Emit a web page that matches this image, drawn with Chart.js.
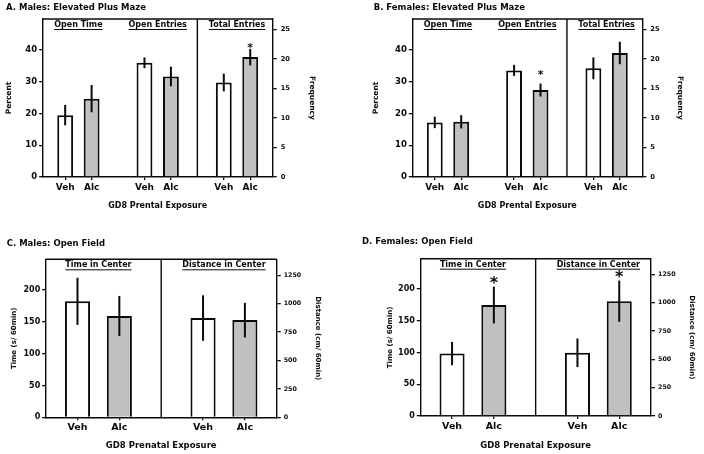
<!DOCTYPE html>
<html><head><meta charset="utf-8">
<script src="https://cdn.jsdelivr.net/npm/chart.js@4.4.1/dist/chart.umd.min.js"></script>
<style>
html,body{margin:0;padding:0;background:#fff;}
#wrap{position:relative;width:704px;height:454px;overflow:hidden;background:#fff;}
canvas{position:absolute;}
</style></head><body>
<div id="wrap">
<canvas id="cA" width="352" height="227" style="left:0px;top:0px"></canvas>
<canvas id="cB" width="352" height="227" style="left:352px;top:0px"></canvas>
<canvas id="cC" width="352" height="227" style="left:0px;top:227px"></canvas>
<canvas id="cD" width="352" height="227" style="left:352px;top:227px"></canvas>
</div>
<script>
// ---------- DATA ----------
const TREATMENTS = ['Veh', 'Alc'];

// A. Males: Elevated Plus Maze
const A_title = 'A. Males: Elevated Plus Maze';
const A_groups = ['Open Time', 'Open Entries', 'Total Entries'];
const A_labels = ['Veh', 'Alc', 'Veh', 'Alc', 'Veh', 'Alc'];
const A_group = [0, 0, 1, 1, 2, 2];
const A_axis = ['left', 'left', 'left', 'left', 'right', 'right'];
const A_values = [19.5, 24.7, 36.0, 31.7, 16.0, 20.3];
const A_errors = [3.2, 4.3, 1.7, 3.1, 1.5, 1.4];
const A_sig = ['', '', '', '', '', '*'];
const A_yTicks = [0, 10, 20, 30, 40];
const A_y2Ticks = [0, 5, 10, 15, 20, 25];
const A_yMax = 49.8, A_y2Max = 26.75;
const A_yTitle = 'Percent', A_y2Title = 'Frequency', A_xTitle = 'GD8 Prental Exposure';

// B. Females: Elevated Plus Maze
const B_title = 'B. Females: Elevated Plus Maze';
const B_groups = ['Open Time', 'Open Entries', 'Total Entries'];
const B_labels = ['Veh', 'Alc', 'Veh', 'Alc', 'Veh', 'Alc'];
const B_group = [0, 0, 1, 1, 2, 2];
const B_axis = ['left', 'left', 'left', 'left', 'right', 'right'];
const B_values = [17.2, 17.4, 33.6, 27.4, 18.4, 21.0];
const B_errors = [1.8, 2.1, 1.75, 2.05, 1.85, 1.9];
const B_sig = ['', '', '', '*', '', ''];
const B_yTicks = [0, 10, 20, 30, 40];
const B_y2Ticks = [0, 5, 10, 15, 20, 25];
const B_yMax = 49.8, B_y2Max = 26.75;
const B_yTitle = 'Percent', B_y2Title = 'Frequency', B_xTitle = 'GD8 Prental Exposure';

// C. Males: Open Field
const C_title = 'C. Males: Open Field';
const C_groups = ['Time in Center', 'Distance in Center'];
const C_labels = ['Veh', 'Alc', 'Veh', 'Alc'];
const C_group = [0, 0, 1, 1];
const C_axis = ['left', 'left', 'right', 'right'];
const C_values = [182, 159, 873, 855];
const C_errors = [37, 31.5, 200, 152];
const C_sig = ['', '', '', ''];
const C_yTicks = [0, 50, 100, 150, 200];
const C_y2Ticks = [0, 250, 500, 750, 1000, 1250];
const C_yMax = 248, C_y2Max = 1390;
const C_yTitle = 'Time (s/ 60min)', C_y2Title = 'Distance (cm/ 60min)', C_xTitle = 'GD8 Prenatal Exposure';

// D. Females: Open Field
const D_title = 'D. Females: Open Field';
const D_groups = ['Time in Center', 'Distance in Center'];
const D_labels = ['Veh', 'Alc', 'Veh', 'Alc'];
const D_group = [0, 0, 1, 1];
const D_axis = ['left', 'left', 'right', 'right'];
const D_values = [98.4, 175, 558, 1013];
const D_errors = [18.4, 29, 126, 182];
const D_sig = ['', '*', '', '*'];
const D_yTicks = [0, 50, 100, 150, 200];
const D_y2Ticks = [0, 250, 500, 750, 1000, 1250];
const D_yMax = 248, D_y2Max = 1388;
const D_yTitle = 'Time (s/ 60min)', D_y2Title = 'Distance (cm/ 60min)', D_xTitle = 'GD8 Prenatal Exposure';

// ---------- STYLE / LAYOUT ----------
const FILL = ['#ffffff', '#c0c0c0'];
const INK = '#0a0a0a';
const FAM = '"DejaVu Sans", "Liberation Sans", sans-serif';

function makeChart(canvasId, D, L) {
  const nT = TREATMENTS.length;
  const slots = D.labels.map((lab, i) => D.group[i] * (nT + 1) + TREATMENTS.indexOf(lab));
  const nGroups = D.groups.length;
  const xMin = -L.pad, xMax = nGroups * (nT + 1) - 2 + L.pad;
  const axisId = a => a === 'right' ? 'y2' : 'y';
  const datasets = ['left', 'right'].map(side => {
    const idx = D.values.map((v, i) => i).filter(i => D.axis[i] === side);
    return {
      yAxisID: axisId(side),
      data: idx.map(i => ({x: slots[i], y: D.values[i]})),
      backgroundColor: idx.map(i => FILL[TREATMENTS.indexOf(D.labels[i])]),
      borderColor: INK, borderWidth: 2, borderSkipped: 'start',
      grouped: false, categoryPercentage: 0.75, barPercentage: 0.8
    };
  }).filter(ds => ds.data.length);

  const W = L.w, H = L.h, A = L.area;
  const lh = 1.2;
  const decor = {
    id: 'decor',
    afterDatasetsDraw(chart) {
      const {ctx, chartArea: ca, scales} = chart;
      ctx.save();
      ctx.strokeStyle = INK; ctx.fillStyle = INK;
      // top frame line
      ctx.lineWidth = 1.4;
      ctx.beginPath(); ctx.moveTo(ca.left, ca.top); ctx.lineTo(ca.right, ca.top); ctx.stroke();
      // dividers where axis changes between groups
      for (let g = 1; g < nGroups; g++) {
        const prev = D.axis[D.group.indexOf(g - 1)], cur = D.axis[D.group.indexOf(g)];
        if (prev !== cur) {
          const x = scales.x.getPixelForValue(g * (nT + 1) - 1);
          ctx.beginPath(); ctx.moveTo(x, ca.top); ctx.lineTo(x, ca.bottom); ctx.stroke();
        }
      }
      // error bars and significance marks
      ctx.lineWidth = 2;
      D.values.forEach((v, i) => {
        const ys = scales[axisId(D.axis[i])];
        const x = scales.x.getPixelForValue(slots[i]);
        const yTop = ys.getPixelForValue(v + D.errors[i]);
        const yBot = ys.getPixelForValue(v - D.errors[i]);
        ctx.beginPath(); ctx.moveTo(x, yBot); ctx.lineTo(x, yTop); ctx.stroke();
        if (D.sig[i]) {
          ctx.font = 'bold ' + L.starSize + 'px ' + FAM;
          ctx.textAlign = 'center'; ctx.textBaseline = 'alphabetic';
          const yc = yTop - L.starGap;
          ctx.fillText(D.sig[i], x, yc + 0.6 * L.starSize);
        }
      });
      // group headings (underlined)
      ctx.font = 'bold ' + L.headSize + 'px ' + FAM;
      ctx.textAlign = 'center'; ctx.textBaseline = 'middle';
      ctx.lineWidth = 1;
      D.groups.forEach((name, g) => {
        const gs = slots.filter((s, i) => D.group[i] === g);
        const cx = scales.x.getPixelForValue((Math.min(...gs) + Math.max(...gs)) / 2);
        const cy = ca.top + 6;
        ctx.fillText(name, cx, cy);
        const w = ctx.measureText(name).width;
        ctx.beginPath(); ctx.moveTo(cx - w / 2, cy + 4.5); ctx.lineTo(cx + w / 2, cy + 4.5); ctx.stroke();
      });
      // panel title
      ctx.font = 'bold 8.5px ' + FAM;
      ctx.textAlign = 'left'; ctx.textBaseline = 'middle';
      ctx.fillText(D.title, L.titleX, L.titleY);
      ctx.restore();
    }
  };

  const tickGrid = {display: true, drawOnChartArea: false, drawTicks: true, tickLength: 3.5, color: INK, lineWidth: 1.3};
  const border = {display: true, color: INK, width: 1.4};

  return new Chart(document.getElementById(canvasId), {
    type: 'bar',
    data: {datasets},
    plugins: [decor],
    options: {
      responsive: false, animation: false, devicePixelRatio: 1,
      layout: {padding: {top: A.t, left: 0, right: 0, bottom: 0}},
      plugins: {legend: {display: false}, tooltip: {enabled: false}, title: {display: false}},
      scales: {
        x: {
          type: 'linear', position: 'bottom', min: xMin, max: xMax, bounds: 'data', offset: false,
          grid: Object.assign({}, tickGrid, {offset: false, tickLength: 3}), border,
          afterBuildTicks: s => { s.ticks = slots.map(v => ({value: v})); },
          afterFit: s => { s.height = H - A.b; },
          ticks: {
            autoSkip: false, maxRotation: 0, color: INK,
            font: {family: FAM, weight: 'bold', size: L.xTick, lineHeight: lh},
            padding: (L.xTickY - A.b) - 3 - L.xTick * lh / 2,
            callback: (v, i) => D.labels[i]
          },
          title: {display: true, text: D.xTitle, color: INK,
            font: {family: FAM, weight: 'bold', size: L.xTitle, lineHeight: lh},
            padding: {top: 0, bottom: (H - L.xTitleY) - L.xTitle * lh / 2}}
        },
        y: {
          type: 'linear', position: 'left', min: 0, max: D.yMax, bounds: 'data',
          grid: tickGrid, border,
          afterBuildTicks: s => { s.ticks = D.yTicks.map(v => ({value: v})); },
          afterFit: s => { s.width = A.l; },
          ticks: {color: INK, font: {family: FAM, weight: 'bold', size: L.yTick, lineHeight: lh},
            padding: 2, callback: v => String(v)},
          title: {display: true, text: D.yTitle, color: INK,
            font: {family: FAM, weight: 'bold', size: L.yTitle, lineHeight: lh},
            padding: {top: L.yTitleX - L.yTitle * lh / 2, bottom: 0}}
        },
        y2: {
          type: 'linear', position: 'right', min: 0, max: D.y2Max, bounds: 'data',
          grid: Object.assign({}, tickGrid, {tickLength: 4}), border,
          afterBuildTicks: s => { s.ticks = D.y2Ticks.map(v => ({value: v})); },
          afterFit: s => { s.width = W - A.r; },
          ticks: {color: INK, font: {family: FAM, weight: 'bold', size: L.y2Tick, lineHeight: lh},
            padding: L.y2Pad, callback: v => String(v)},
          title: {display: true, text: D.y2Title, color: INK,
            font: {family: FAM, weight: 'bold', size: L.yTitle, lineHeight: lh},
            padding: {top: (W - L.y2TitleX) - L.yTitle * lh / 2, bottom: 0}}
        }
      }
    }
  });
}

function pack(p) {
  return {title: p.title, groups: p.groups, labels: p.labels, group: p.group, axis: p.axis,
    values: p.values, errors: p.errors, sig: p.sig, yTicks: p.yTicks, y2Ticks: p.y2Ticks,
    yMax: p.yMax, y2Max: p.y2Max, yTitle: p.yTitle, y2Title: p.y2Title, xTitle: p.xTitle};
}

const base = {w: 352, h: 227, headSize: 8};
const epm = Object.assign({}, base, {pad: 0.85, xTick: 9, xTitle: 8, yTick: 8.5, y2Tick: 6.7, yTitle: 7.5,
  xTickY: 187.7, xTitleY: 205.7, y2Pad: 4, starSize: 11});
const of = Object.assign({}, base, {pad: 0.76, xTick: 9.5, xTitle: 8.5, yTick: 8, y2Tick: 6.3, yTitle: 7,
  y2Pad: 3, starSize: 16, starGap: 8.5});

makeChart('cA', pack({title: A_title, groups: A_groups, labels: A_labels, group: A_group, axis: A_axis,
  values: A_values, errors: A_errors, sig: A_sig, yTicks: A_yTicks, y2Ticks: A_y2Ticks, yMax: A_yMax,
  y2Max: A_y2Max, yTitle: A_yTitle, y2Title: A_y2Title, xTitle: A_xTitle}),
  Object.assign({}, epm, {area: {l: 42.7, r: 272.7, t: 19, b: 177}, titleX: 6, titleY: 8,
    yTitleX: 9, y2TitleX: 311.7, starGap: 4.5}));

makeChart('cB', pack({title: B_title, groups: B_groups, labels: B_labels, group: B_group, axis: B_axis,
  values: B_values, errors: B_errors, sig: B_sig, yTicks: B_yTicks, y2Ticks: B_y2Ticks, yMax: B_yMax,
  y2Max: B_y2Max, yTitle: B_yTitle, y2Title: B_y2Title, xTitle: B_xTitle}),
  Object.assign({}, epm, {area: {l: 60.3, r: 290.3, t: 19, b: 177}, titleX: 21.7, titleY: 7.5,
    yTitleX: 24, y2TitleX: 328.3, starGap: 12}));

makeChart('cC', pack({title: C_title, groups: C_groups, labels: C_labels, group: C_group, axis: C_axis,
  values: C_values, errors: C_errors, sig: C_sig, yTicks: C_yTicks, y2Ticks: C_y2Ticks, yMax: C_yMax,
  y2Max: C_y2Max, yTitle: C_yTitle, y2Title: C_y2Title, xTitle: C_xTitle}),
  Object.assign({}, of, {area: {l: 45.7, r: 276.7, t: 32.3, b: 190.3}, titleX: 6.7, titleY: 16.7,
    yTitleX: 14.3, y2TitleX: 318.3, xTickY: 201, xTitleY: 218.3}));

makeChart('cD', pack({title: D_title, groups: D_groups, labels: D_labels, group: D_group, axis: D_axis,
  values: D_values, errors: D_errors, sig: D_sig, yTicks: D_yTicks, y2Ticks: D_y2Ticks, yMax: D_yMax,
  y2Max: D_y2Max, yTitle: D_yTitle, y2Title: D_y2Title, xTitle: D_xTitle}),
  Object.assign({}, of, {area: {l: 68.3, r: 299, t: 31.7, b: 189}, titleX: 10, titleY: 15,
    yTitleX: 37.7, y2TitleX: 340, xTickY: 200, xTitleY: 218.3}));
</script>
</body></html>
